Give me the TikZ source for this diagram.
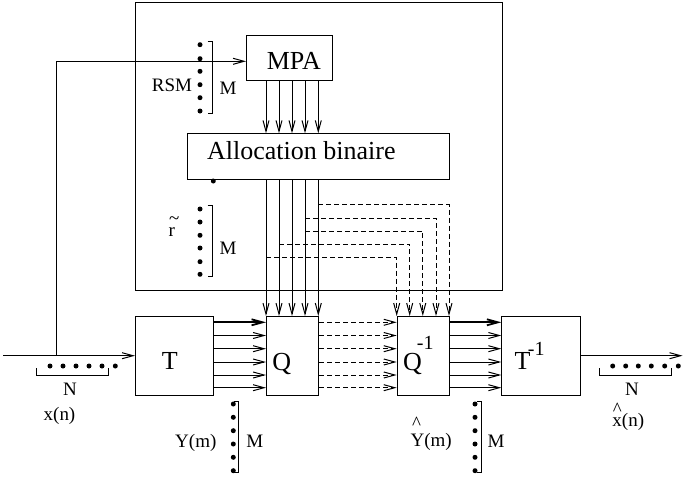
\documentclass[tikz,border=0pt]{standalone}
\usepackage{fontspec}
\setmainfont{Liberation Serif}
\usetikzlibrary{arrows.meta}
\tikzset{
  every picture/.style={x=1pt,y=-1pt},
  ln/.style={line width=1pt},
  boxnode/.style={draw,line width=1pt,inner sep=0pt,anchor=north west,fill=none},
  arr/.style={line width=1pt,-{Straight Barb[length=11pt,width=6pt]}},
  thickarr/.style={line width=1.8pt,-{Straight Barb[length=11pt,width=6pt]}},
  darr/.style={line width=1pt,dash pattern=on 5pt off 3pt,-{Straight Barb[length=11pt,width=6pt]}},
  bigtxt/.style={inner sep=0pt,anchor=base,font=\fontsize{26}{26}\selectfont},
  smalltxt/.style={inner sep=0pt,anchor=base,font=\fontsize{19}{19}\selectfont},
  dotc/.style={fill=black,draw=none,circle,inner sep=0pt,minimum size=5pt},
}
\begin{document}
\begin{tikzpicture}
\useasboundingbox (0,0) rectangle (683,477);
% boxes
\node[boxnode,minimum width=366.7pt,minimum height=288pt] (outer) at (135,2) {};
\node[boxnode,minimum width=85.7pt,minimum height=45.7pt] (MPA) at (246,34.7) {};
\node[boxnode,minimum width=261.7pt,minimum height=45.7pt] (alloc) at (187.3,133.3) {};
\node[boxnode,minimum width=78.3pt,minimum height=78.7pt] (T) at (135,316) {};
\node[boxnode,minimum width=52.3pt,minimum height=78.7pt] (Q) at (266,316) {};
\node[boxnode,minimum width=52.3pt,minimum height=78.7pt] (Qi) at (396.7,316) {};
\node[boxnode,minimum width=78.4pt,minimum height=78.7pt] (Ti) at (501.3,316) {};
% box texts
\node[bigtxt] (MPAtxt) at (293.8,69) {MPA};
\node[bigtxt] (alloctxt) at (301.3,159.3) {Allocation binaire};
\node[bigtxt] (Ttxt) at (169.7,369.3) {T};
\node[bigtxt] (Qtxt) at (281.7,370) {Q};
\node[bigtxt] (Qitxt) at (412.5,370) {Q\rlap{\hspace{-5pt}\raisebox{20.7pt}{\fontsize{20}{20}\selectfont -1}}};
\node[bigtxt] (Titxt) at (522.5,369.3) {T\rlap{\hspace{-2.5pt}\raisebox{13.6pt}{\fontsize{20}{20}\selectfont -1}}};
% column / row coordinates
\coordinate (c1) at (266,0); \coordinate (c2) at (279,0); \coordinate (c3) at (292,0);
\coordinate (c4) at (305,0); \coordinate (c5) at (318.3,0);
\coordinate (d1) at (396.7,0); \coordinate (d2) at (409.7,0); \coordinate (d3) at (422.8,0);
\coordinate (d4) at (436,0); \coordinate (d5) at (449,0);
\coordinate (r1) at (0,322.3); \coordinate (r2) at (0,335.5); \coordinate (r3) at (0,348.7);
\coordinate (r4) at (0,362); \coordinate (r5) at (0,375); \coordinate (r6) at (0,387.7);
\coordinate (h1) at (0,204.3); \coordinate (h2) at (0,218); \coordinate (h3) at (0,231);
\coordinate (h4) at (0,244); \coordinate (h5) at (0,257.3);
% MPA -> allocation, allocation -> Q
\foreach \c in {c1,c2,c3,c4,c5}{
  \draw[arr] (MPA.south -| \c) -- (alloc.north -| \c);
  \draw[arr] (alloc.south -| \c) -- (Q.north -| \c);
}
% dashed branches to Q^-1
\draw[darr] (h1 -| c5) -- (h1 -| d5) -- (Qi.north -| d5);
\draw[darr] (h2 -| c4) -- (h2 -| d4) -- (Qi.north -| d4);
\draw[darr] (h3 -| c4) -- (h3 -| d3) -- (Qi.north -| d3);
\draw[darr] (h4 -| c2) -- (h4 -| d2) -- (Qi.north -| d2);
\draw[darr] (h5 -| c1) -- (h5 -| d1) -- (Qi.north -| d1);
% T -> Q, Q -> Q^-1, Q^-1 -> T^-1
\draw[thickarr] (T.east |- r1) -- (Q.west |- r1);
\draw[thickarr] (Qi.east |- r1) -- (Ti.west |- r1);
\draw[darr] (Q.east |- r1) -- (Qi.west |- r1);
\foreach \r in {r2,r3,r4,r5,r6}{
  \draw[arr] (T.east |- \r) -- (Q.west |- \r);
  \draw[darr] (Q.east |- \r) -- (Qi.west |- \r);
  \draw[arr] (Qi.east |- \r) -- (Ti.west |- \r);
}
% input and output
\coordinate (in) at (3,355.7);
\coordinate (fb) at (56,61.3);
\coordinate (out) at (682.5,355.7);
\draw[arr] (in) -- (T.west |- in);
\draw[arr] (fb |- in) -- (fb) -- (fb -| MPA.west);
\draw[arr] (Ti.east |- out) -- (out);
% RSM dots
\foreach \y [count=\i] in {44.7,58.7,71.3,84.7,97.7,111}{\node[dotc] (rsm\i) at (200,\y) {};}
\draw[ln] (207.7,41.7) -- (212.7,41.7) -- (212.7,113.3) -- (207.7,113.3);
\node[smalltxt] (rsmtxt) at (172,91.7) {RSM};
\node[smalltxt] (rsmM) at (228,94) {M};
% extra dot under allocation
\node[dotc] (sdot) at (213.3,181) {};
% r tilde dots
\foreach \y [count=\i] in {209,222,235.3,248,261.7,274.3}{\node[dotc] (rt\i) at (200,\y) {};}
\draw[ln] (207.7,205) -- (212.7,205) -- (212.7,276.7) -- (207.7,276.7);
\node[smalltxt] (rtxt) at (171.7,236.7) {\rlap{\hspace{0.5pt}\raisebox{12pt}{\~{}}}r};
\node[smalltxt] (rtM) at (228,254) {M};
% input N
\foreach \x [count=\i] in {50,63,76,89,102,115.3}{\node[dotc] (in\i) at (\x,366) {};}
\draw[ln] (36.7,368.3) -- (36.7,375) -- (108.3,375) -- (108.3,368.3);
\node[smalltxt] (inN) at (70,395) {N};
\node[smalltxt] (xn) at (59.5,420.7) {x(n)};
% output N
\foreach \x [count=\i] in {612.7,625.7,638.3,651.3,664.7,678.3}{\node[dotc] (out\i) at (\x,366) {};}
\draw[ln] (599.3,368.3) -- (599.3,375) -- (671,375) -- (671,368.3);
\node[smalltxt] (outN) at (632,395) {N};
\node[smalltxt] (xhn) at (628.3,426.7) {\rlap{\hspace{0.5pt}\raisebox{11.5pt}{\^{}}}x(n)};
% Y(m)
\foreach \y [count=\i] in {404,417.3,430.7,444,457.3,470.7}{\node[dotc] (ym\i) at (233.3,\y) {};}
\draw[ln] (233.7,401.3) -- (238.7,401.3) -- (238.7,472.7) -- (233.7,472.7);
\node[smalltxt] (ymtxt) at (195.8,447.3) {Y(m)};
\node[smalltxt] (ymM) at (254.7,447.3) {M};
% Y hat (m)
\foreach \y [count=\i] in {404,417.3,430.7,444,457.3,470.7}{\node[dotc] (yh\i) at (475,\y) {};}
\draw[ln] (476.7,401.3) -- (481.7,401.3) -- (481.7,472.7) -- (476.7,472.7);
\node[smalltxt] (yhtxt) at (431.2,446.7) {\rlap{\hspace{1.5pt}\raisebox{17pt}{\^{}}}Y(m)};
\node[smalltxt] (yhM) at (496,447) {M};
\end{tikzpicture}
\end{document}
